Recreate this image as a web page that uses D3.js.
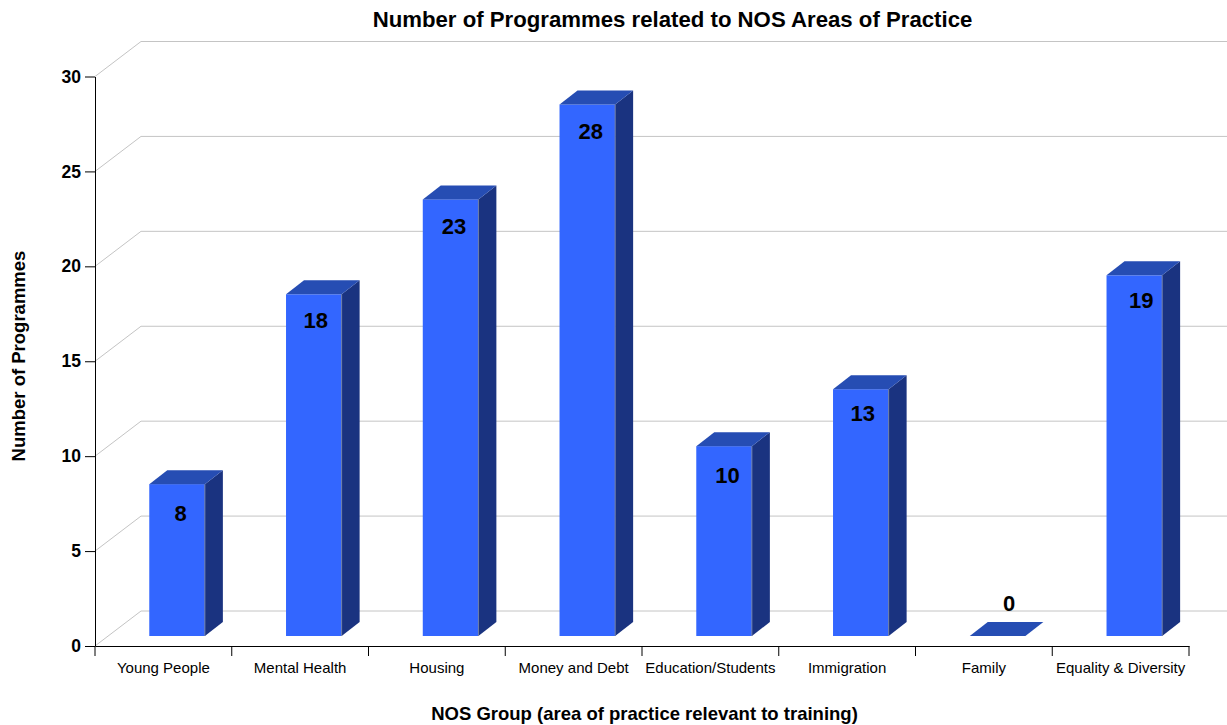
<!DOCTYPE html>
<html>
<head>
<meta charset="utf-8">
<script src="https://cdnjs.cloudflare.com/ajax/libs/d3/7.8.5/d3.min.js"></script>
<style>
html, body { margin: 0; padding: 0; background: #fff; }
svg { display: block; }
text { font-family: "Liberation Sans", Arial, sans-serif; fill: #000; }
</style>
</head>
<body>
<div id="chart"></div>
<script>
const categories = ["Young People", "Mental Health", "Housing", "Money and Debt", "Education/Students", "Immigration", "Family", "Equality & Diversity"];
const programmes = [8, 18, 23, 28, 10, 13, 0, 19];
const yTicks = [0, 5, 10, 15, 20, 25, 30];

const width = 1227, height = 725;
const svg = d3.select("#chart").append("svg").attr("width", width).attr("height", height);

const x = d3.scaleBand().domain(categories).range([95, 1189]);
const y = d3.scaleLinear().domain([0, 30]).range([646, 76.5]);

// fake 3d: the back wall and the bar side faces are sheared copies of the front
const wall = {dx: 46, dy: -35};
const barOffset = {dx: 13.7, dy: -10};
const depth = {dx: 18, dy: -14};
const barWidth = 55.6;
// hand placed tweaks for the value labels
const labelNudgeX = [0, -1.5, 0, 0, 0, -1.5, 8, 3.5];
const labelNudgeY = [2, -1.5, 0, -0.5, 1.5, -3.5, 0, -2];

const grid = svg.append("g").attr("fill", "none");
yTicks.forEach(t => {
    grid.append("path")
        .attr("d", `M${x.range()[0]},${y(t)}L${x.range()[0] + wall.dx},${y(t) + wall.dy}L${width},${y(t) + wall.dy}`)
        .attr("stroke", "#c4c4c4")
        .attr("stroke-width", 1);
});

const bars = svg.append("g").selectAll("g").data(categories.map((c, i) => ({c, v: programmes[i], i}))).join("g");

bars.each(function(d) {
    const g = d3.select(this);
    const x0 = x(d.c) + x.bandwidth() / 2 - barWidth / 2 + barOffset.dx;
    const x1 = x0 + barWidth;
    const base = y(0) + barOffset.dy;
    const top = y(d.v) + barOffset.dy;

    if (d.v > 0) {
        g.append("rect").attr("x", x0).attr("y", top).attr("width", barWidth).attr("height", base - top).attr("fill", "#3366ff");
        g.append("path")
            .attr("d", `M${x1},${top}L${x1 + depth.dx},${top + depth.dy}L${x1 + depth.dx},${base + depth.dy}L${x1},${base}Z`)
            .attr("fill", "#1a3380");
        g.append("line").attr("x1", x1).attr("x2", x1).attr("y1", top).attr("y2", base).attr("stroke", "#6f7fa8").attr("stroke-width", 1);
    }
    g.append("path")
        .attr("d", `M${x0},${top}L${x0 + depth.dx},${top + depth.dy}L${x1 + depth.dx},${top + depth.dy}L${x1},${top}Z`)
        .attr("fill", "#264db3");

    // zero height bars get their label above the lid
    g.append("text")
        .attr("x", (x0 + x1) / 2 + 3.5 + labelNudgeX[d.i])
        .attr("y", (d.v > 0 ? top + 35 : top - 25) + labelNudgeY[d.i])
        .attr("text-anchor", "middle")
        .attr("font-size", 22)
        .attr("font-weight", "bold")
        .text(d.v);
});

const yAxis = svg.append("g")
    .attr("transform", `translate(${x.range()[0]},0)`)
    .call(d3.axisLeft(y).tickValues(yTicks).tickSize(10).tickSizeOuter(0).tickPadding(4));
yAxis.selectAll("text").attr("font-size", 17.5).attr("font-weight", "bold").attr("font-family", null);

const xAxis = svg.append("g")
    .attr("transform", `translate(0,${y(0)})`)
    .call(d3.axisBottom(x).tickSize(0).tickPadding(16));
xAxis.selectAll("text").attr("font-size", 15).attr("font-family", null);
xAxis.selectAll(".boundary")
    .data(d3.range(categories.length + 1))
    .join("line")
    .attr("class", "boundary")
    .attr("x1", i => x.range()[0] + i * x.bandwidth())
    .attr("x2", i => x.range()[0] + i * x.bandwidth())
    .attr("y1", 0)
    .attr("y2", 10)
    .attr("stroke", "#000");

svg.append("text")
    .attr("x", 672.5).attr("y", 27)
    .attr("text-anchor", "middle")
    .attr("font-size", 22.2)
    .attr("font-weight", "bold")
    .text("Number of Programmes related to NOS Areas of Practice");

svg.append("text")
    .attr("x", 644.5).attr("y", 720)
    .attr("text-anchor", "middle")
    .attr("font-size", 18.5)
    .attr("font-weight", "bold")
    .text("NOS Group (area of practice relevant to training)");

svg.append("text")
    .attr("transform", "translate(25,356) rotate(-90)")
    .attr("text-anchor", "middle")
    .attr("font-size", 18.5)
    .attr("font-weight", "bold")
    .text("Number of Programmes");
</script>
</body>
</html>
